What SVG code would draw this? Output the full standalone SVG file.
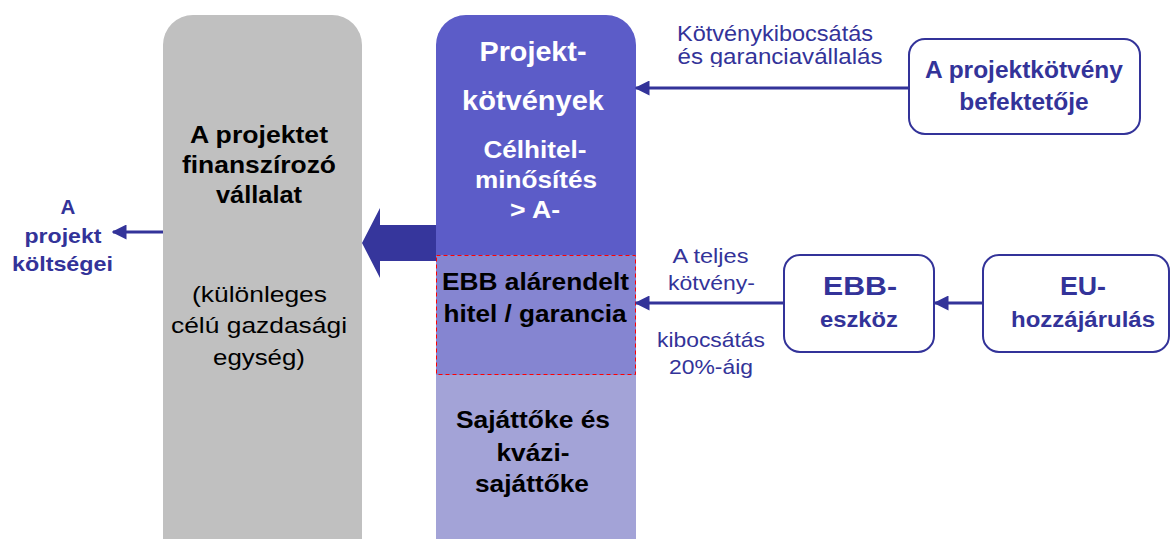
<svg xmlns="http://www.w3.org/2000/svg" width="1171" height="539" viewBox="0 0 1171 539">
<style>
.b{font-family:"Liberation Sans",Arial,sans-serif;font-weight:bold;text-anchor:middle}
.r{font-family:"Liberation Sans",Arial,sans-serif;text-anchor:middle}
.navy{fill:#333399}
.w{fill:#fff}
.box{fill:#fff;stroke:#333399;stroke-width:2}
.ln{stroke:#333399;stroke-width:3;fill:none}
</style>
<defs>
<marker id="ah" viewBox="0 0 10 10" refX="9" refY="5" markerWidth="5" markerHeight="5" orient="auto" markerUnits="strokeWidth">
<path d="M0,0 L10,5 L0,10 Z" fill="#333399"/>
</marker>
<clipPath id="clipLbl"><rect x="600" y="0" width="300" height="67"/></clipPath>
<clipPath id="colClip"><rect x="436" y="15" width="200" height="560" rx="30"/></clipPath>
</defs>
<rect width="1171" height="539" fill="#fff"/>

<g id="company">
<rect x="163" y="15" width="199" height="560" rx="30" fill="#C0C0C0"/>
<text class="b" x="259" y="143" font-size="24" textLength="138" lengthAdjust="spacingAndGlyphs">A projektet</text>
<text class="b" x="259" y="173" font-size="24" textLength="154" lengthAdjust="spacingAndGlyphs">finanszírozó</text>
<text class="b" x="259" y="203" font-size="24" textLength="86" lengthAdjust="spacingAndGlyphs">vállalat</text>
<text class="r" x="259.5" y="302" font-size="22" textLength="135" lengthAdjust="spacingAndGlyphs">(különleges</text>
<text class="r" x="259" y="333" font-size="22" textLength="176" lengthAdjust="spacingAndGlyphs">célú gazdasági</text>
<text class="r" x="259" y="365" font-size="22" textLength="92" lengthAdjust="spacingAndGlyphs">egység)</text>
</g>

<g id="column">
<g clip-path="url(#colClip)">
<rect x="436" y="15" width="200" height="240" fill="#5C5CC8"/>
<rect x="436" y="255" width="200" height="120" fill="#8585D1"/>
<rect x="436" y="375" width="200" height="200" fill="#A3A3D7"/>
</g>
<rect x="436.5" y="255.5" width="199" height="119" fill="none" stroke="#FF0000" stroke-width="1" stroke-dasharray="4,3"/>
<text class="b w" x="533" y="61" font-size="28" textLength="107" lengthAdjust="spacingAndGlyphs">Projekt-</text>
<text class="b w" x="533" y="110" font-size="28" textLength="142" lengthAdjust="spacingAndGlyphs">kötvények</text>
<text class="b w" x="535" y="158" font-size="23.5" textLength="103" lengthAdjust="spacingAndGlyphs">Célhitel-</text>
<text class="b w" x="536" y="188" font-size="23.5" textLength="122" lengthAdjust="spacingAndGlyphs">minősítés</text>
<text class="b w" x="535" y="218" font-size="23.5" textLength="50" lengthAdjust="spacingAndGlyphs">&gt; A-</text>
<text class="b" x="535.5" y="290" font-size="24" textLength="187" lengthAdjust="spacingAndGlyphs">EBB alárendelt</text>
<text class="b" x="535" y="322" font-size="24" textLength="183" lengthAdjust="spacingAndGlyphs">hitel / garancia</text>
<text class="b" x="533" y="428" font-size="24" textLength="154" lengthAdjust="spacingAndGlyphs">Sajáttőke és</text>
<text class="b" x="533" y="461" font-size="24" textLength="73" lengthAdjust="spacingAndGlyphs">kvázi-</text>
<text class="b" x="532" y="492" font-size="24" textLength="114" lengthAdjust="spacingAndGlyphs">sajáttőke</text>
</g>

<g id="investor">
<rect class="box" x="909" y="39" width="231" height="95" rx="16"/>
<text class="b navy" x="1024" y="78" font-size="24.5">A projektkötvény</text>
<text class="b navy" x="1024" y="110" font-size="24.5">befektetője</text>
</g>

<g id="ebb">
<rect class="box" x="784" y="255" width="150" height="97" rx="16"/>
<text class="b navy" x="860" y="295" font-size="26" textLength="74" lengthAdjust="spacingAndGlyphs">EBB-</text>
<text class="b navy" x="859" y="327" font-size="22.5" textLength="78" lengthAdjust="spacingAndGlyphs">eszköz</text>
</g>

<g id="eu">
<rect class="box" x="983" y="255" width="186" height="97" rx="16"/>
<text class="b navy" x="1083" y="295" font-size="26" textLength="46" lengthAdjust="spacingAndGlyphs">EU-</text>
<text class="b navy" x="1083" y="327" font-size="22.5" textLength="144" lengthAdjust="spacingAndGlyphs">hozzájárulás</text>
</g>

<g id="costs">
<text class="b navy" x="68" y="214" font-size="20.5">A</text>
<text class="b navy" x="63" y="243" font-size="20.5" textLength="77" lengthAdjust="spacingAndGlyphs">projekt</text>
<text class="b navy" x="62.5" y="271" font-size="20.5" textLength="101" lengthAdjust="spacingAndGlyphs">költségei</text>
</g>

<g id="connectors">
<path d="M362,243 L380,208 L380,225 L436,225 L436,261 L380,261 L380,278 Z" fill="#36369C"/>
<line class="ln" x1="163" y1="232" x2="113" y2="232" marker-end="url(#ah)"/>
<line class="ln" x1="909" y1="88" x2="636" y2="88" marker-end="url(#ah)"/>
<line class="ln" x1="784" y1="303" x2="636" y2="303" marker-end="url(#ah)"/>
<line class="ln" x1="983" y1="303" x2="935" y2="303" marker-end="url(#ah)"/>
<text class="r navy" x="775" y="41" font-size="22" textLength="196" lengthAdjust="spacingAndGlyphs">Kötvénykibocsátás</text>
<text class="r navy" x="780" y="64" font-size="22" textLength="205" lengthAdjust="spacingAndGlyphs" clip-path="url(#clipLbl)">és garanciavállalás</text>
<text class="r navy" x="710.5" y="263" font-size="21" textLength="76" lengthAdjust="spacingAndGlyphs">A teljes</text>
<text class="r navy" x="711.5" y="290" font-size="21" textLength="87" lengthAdjust="spacingAndGlyphs">kötvény-</text>
<text class="r navy" x="711" y="347" font-size="21" textLength="108" lengthAdjust="spacingAndGlyphs">kibocsátás</text>
<text class="r navy" x="711" y="374" font-size="21" textLength="84" lengthAdjust="spacingAndGlyphs">20%-áig</text>
</g>
</svg>
